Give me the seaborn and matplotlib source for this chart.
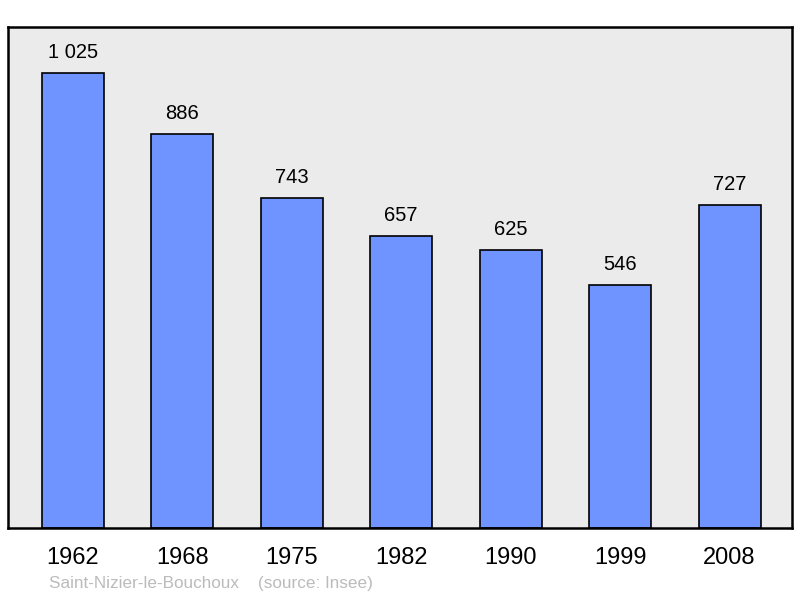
import numpy as np
import pandas as pd
import matplotlib
matplotlib.use('Agg')
import matplotlib.pyplot as plt
import seaborn as sns

# data
years = ['1962', '1968', '1975', '1982', '1990', '1999', '2008']
population = [1025, 886, 743, 657, 625, 546, 727]
value_labels = ['1 025', '886', '743', '657', '625', '546', '727']

df = pd.DataFrame({'year': years, 'pop': population})

sns.set_style('white')
plt.rcParams['font.family'] = ['Liberation Sans', 'DejaVu Sans']
plt.rcParams['text.color'] = 'black'
plt.rcParams['xtick.color'] = 'black'

fig = plt.figure(figsize=(8, 5.98), dpi=100)
ax = fig.add_axes([0.01, 0.117, 0.98, 0.838])
ax.set_facecolor('#ebebeb')

sns.barplot(data=df, x='year', y='pop', color='#7094ff', saturation=1,
            width=0.566, edgecolor='black', linewidth=1.2, ax=ax)

for i, (v, lab) in enumerate(zip(population, value_labels)):
    ax.annotate(lab, (i, v), xytext=(0, 8), textcoords='offset points',
                ha='center', va='bottom', fontsize=14.5, color='black')

ax.set_xlim(-0.59, 6.57)
ax.set_ylim(0, 1128)
ax.set_yticks([])
ax.set_xlabel('')
ax.set_ylabel('')
ax.tick_params(axis='x', length=0, labelsize=17, pad=14, labelcolor='black')
for s in ax.spines.values():
    s.set_linewidth(1.8)
    s.set_color('black')

fig.text(0.061, 0.012, 'Saint-Nizier-le-Bouchoux    (source: Insee)',
         fontsize=12.3, color='#bbbbbb', ha='left', va='bottom')

fig.savefig('out.png', dpi=100)
